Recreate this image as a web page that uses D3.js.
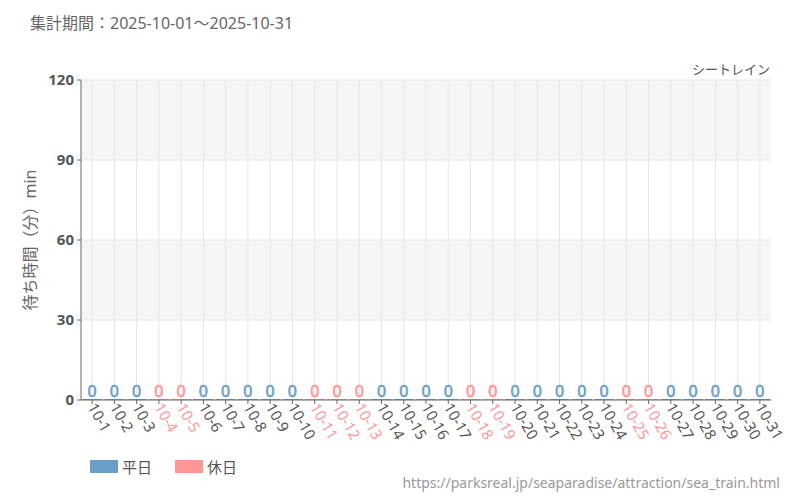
<!DOCTYPE html>
<html><head><meta charset="utf-8">
<script src="https://cdn.jsdelivr.net/npm/d3@7"></script>
<style>body{margin:0;background:#fff;font-family:"Noto Sans","Noto Sans CJK JP",sans-serif}</style>
</head><body><svg id="c" width="800" height="500"></svg>
<script>
// data
const days = d3.range(1, 32).map(d => "10-" + d)
const holidays = ["10-4","10-5","10-11","10-12","10-13","10-18","10-19","10-25","10-26"]
const waits = days.map(() => 0)
const yTicks = [0, 30, 60, 90, 120]

const blue = "#6a9ec7", pink = "#ff9595", grey = "#555"
const svg = d3.select("#c")
const m = {l: 81, r: 771, t: 80, b: 400}

const x = d3.scaleBand().domain(days).range([m.l, m.r])
const y = d3.scaleLinear().domain([0, 120]).range([m.b, m.t])

// alternating bands
svg.selectAll("rect.band").data([[90,120],[30,60]]).join("rect")
    .attr("x", m.l).attr("width", m.r - m.l)
    .attr("y", d => y(d[1])).attr("height", d => y(d[0]) - y(d[1]))
    .attr("fill", "#f6f6f6")
svg.selectAll("line.hg").data(yTicks.slice(1)).join("line")
    .attr("x1", m.l).attr("x2", m.r).attr("y1", d => y(d)).attr("y2", d => y(d))
    .attr("stroke", "#e6e6e6")
svg.selectAll("line.vg").data(days).join("line")
    .attr("x1", d => x(d) + x.bandwidth() / 2).attr("x2", d => x(d) + x.bandwidth() / 2)
    .attr("y1", m.t).attr("y2", m.b).attr("stroke", "#e6e6e6")

const col = d => holidays.includes(d) ? pink : blue

// bars (zero height, drawn as thin line)
svg.selectAll("rect.bar").data(days).join("rect")
    .attr("x", d => x(d) + 1).attr("width", x.bandwidth() - 2)
    .attr("y", (d, i) => y(waits[i]) - 1).attr("height", (d, i) => y(0) - y(waits[i]) + 1)
    .attr("fill", col)
svg.selectAll("text.val").data(days).join("text")
    .attr("x", d => x(d) + x.bandwidth() / 2).attr("y", (d, i) => y(waits[i]) - 3)
    .attr("text-anchor", "middle").attr("font-size", 16).attr("fill", col)
    .attr("stroke", col).attr("stroke-width", 0.6)
    .text((d, i) => waits[i])

// axes
svg.append("line").attr("x1", m.l).attr("x2", m.l).attr("y1", m.t).attr("y2", m.b).attr("stroke", "#666")
svg.append("line").attr("x1", m.l).attr("x2", m.r).attr("y1", m.b).attr("y2", m.b).attr("stroke", "#666")
svg.selectAll("line.yt").data(yTicks).join("line")
    .attr("x1", m.l - 4).attr("x2", m.l).attr("y1", d => y(d)).attr("y2", d => y(d)).attr("stroke", "#666")
svg.selectAll("text.yl").data(yTicks).join("text")
    .attr("x", m.l - 7).attr("y", d => y(d) + 5).attr("text-anchor", "end")
    .attr("font-size", 15).attr("font-weight", "bold").attr("fill", grey).text(d => d)
svg.selectAll("line.xt").data(days).join("line")
    .attr("x1", d => x(d) + x.bandwidth() / 2).attr("x2", d => x(d) + x.bandwidth() / 2)
    .attr("y1", m.b).attr("y2", m.b + 4).attr("stroke", "#666")
svg.selectAll("text.xl").data(days).join("text")
    .attr("transform", d => `translate(${x(d) + x.bandwidth() / 2 - 5},${m.b + 7}) rotate(60)`)
    .attr("font-size", 15).attr("fill", d => holidays.includes(d) ? pink : grey).text(d => d)

// titles
svg.append("text").attr("x", 30).attr("y", 29).attr("font-size", 16).attr("fill", "#666")
    .text("集計期間：2025-10-01～2025-10-31")
svg.append("text").attr("x", 770).attr("y", 74).attr("text-anchor", "end").attr("font-size", 13).attr("fill", grey)
    .text("シートレイン")
svg.append("text").attr("transform", "translate(36,240) rotate(-90)").attr("text-anchor", "middle")
    .attr("font-size", 16).attr("fill", "#666").text("待ち時間（分）min")

// legend
const leg = [["平日", blue, 90], ["休日", pink, 175]]
leg.forEach(l => {
    svg.append("rect").attr("x", l[2]).attr("y", 460).attr("width", 28).attr("height", 13).attr("fill", l[1])
    svg.append("text").attr("x", l[2] + 32).attr("y", 473).attr("font-size", 15).attr("fill", grey).text(l[0])
})
svg.append("text").attr("x", 780).attr("y", 488).attr("text-anchor", "end").attr("font-size", 14).attr("fill", "#999")
    .text("https://parksreal.jp/seaparadise/attraction/sea_train.html")
</script></body></html>
